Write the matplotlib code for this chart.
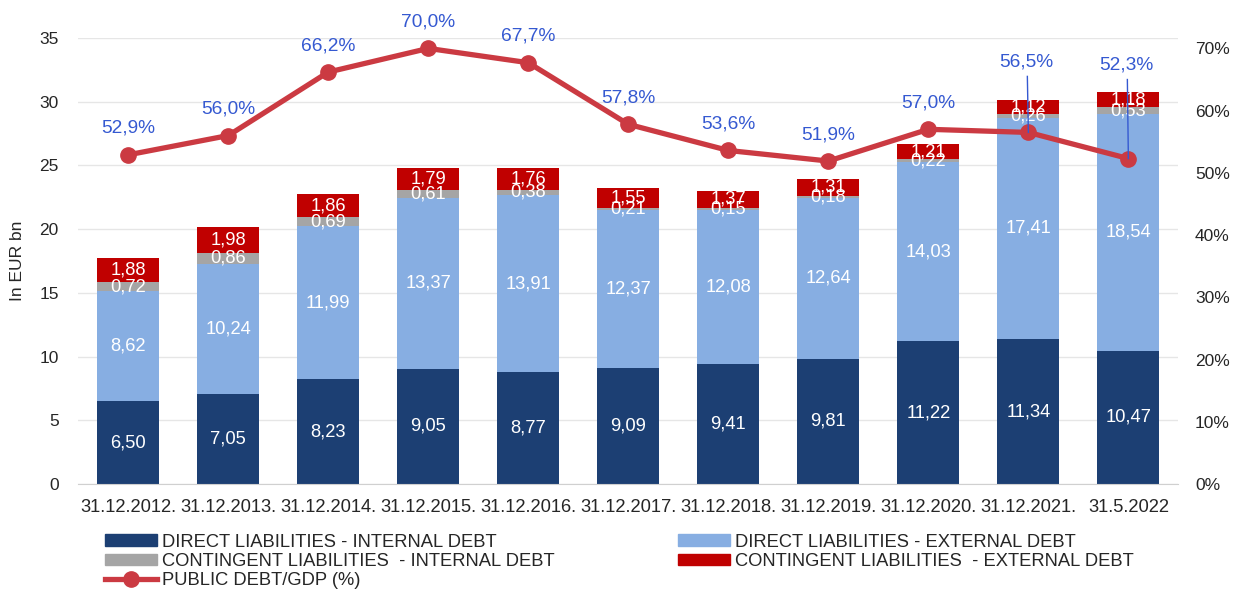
import matplotlib
matplotlib.use("Agg")
import matplotlib.pyplot as plt
import numpy as np
from matplotlib.lines import Line2D
from matplotlib.patches import Patch

plt.rcParams['font.family'] = ['Liberation Sans', 'DejaVu Sans']

categories = ["31.12.2012.", "31.12.2013.", "31.12.2014.", "31.12.2015.", "31.12.2016.",
              "31.12.2017.", "31.12.2018.", "31.12.2019.", "31.12.2020.", "31.12.2021.", "31.5.2022"]
direct_internal = [6.50, 7.05, 8.23, 9.05, 8.77, 9.09, 9.41, 9.81, 11.22, 11.34, 10.47]
direct_external = [8.62, 10.24, 11.99, 13.37, 13.91, 12.37, 12.08, 12.64, 14.03, 17.41, 18.54]
contingent_internal = [0.72, 0.86, 0.69, 0.61, 0.38, 0.21, 0.15, 0.18, 0.22, 0.26, 0.53]
contingent_external = [1.88, 1.98, 1.86, 1.79, 1.76, 1.55, 1.37, 1.31, 1.21, 1.12, 1.18]
debt_gdp = [52.9, 56.0, 66.2, 70.0, 67.7, 57.8, 53.6, 51.9, 57.0, 56.5, 52.3]

c_di = "#1C3F73"
c_de = "#87AEE2"
c_ci = "#A5A5A5"
c_ce = "#C00000"
c_line = "#CB3A42"
c_pct = "#3559D1"
c_txt = "#262626"

fig = plt.figure(figsize=(12.43, 5.91), dpi=100)
ax = fig.add_axes([0.063, 0.181, 0.885, 0.755])
ax2 = ax.twinx()

x = np.arange(len(categories))
w = 0.62
di = np.array(direct_internal)
de = np.array(direct_external)
ci = np.array(contingent_internal)
ce = np.array(contingent_external)

ax.bar(x, di, w, color=c_di, zorder=2)
ax.bar(x, de, w, bottom=di, color=c_de, zorder=2)
ax.bar(x, ci, w, bottom=di + de, color=c_ci, zorder=2)
ax.bar(x, ce, w, bottom=di + de + ci, color=c_ce, zorder=2)

fs = 13.2
fmt = lambda v: f"{v:.2f}".replace(".", ",")
for i in range(len(x)):
    ax.text(x[i], di[i] / 2, fmt(di[i]), ha="center", va="center", color="white", fontsize=fs, zorder=3)
    ax.text(x[i], di[i] + de[i] / 2, fmt(de[i]), ha="center", va="center", color="white", fontsize=fs, zorder=3)
    ax.text(x[i], di[i] + de[i] + ci[i] / 2, fmt(ci[i]), ha="center", va="center", color="white", fontsize=fs, zorder=3)
    ax.text(x[i], di[i] + de[i] + ci[i] + ce[i] / 2, fmt(ce[i]), ha="center", va="center", color="white", fontsize=fs, zorder=3)

ax.set_ylim(0, 35)
ax.set_yticks(np.arange(0, 36, 5))
ax.set_xlim(-0.5, len(x) - 0.5)
ax.set_xticks(x)
ax.set_xticklabels(categories, fontsize=13.2, color=c_txt)
ax.tick_params(axis="y", labelsize=12.5, colors=c_txt, length=0, pad=14)
ax.tick_params(axis="x", length=0, pad=11)
ax.grid(axis="y", color="#E6E6E6", linewidth=1, zorder=0)
ax.set_axisbelow(True)
for s in ["top", "left", "right"]:
    ax.spines[s].set_visible(False)
ax.spines["bottom"].set_color("#D0D0D0")
ax.set_ylabel("In EUR bn", fontsize=12.5, color=c_txt, labelpad=10)

ax2.plot(x, debt_gdp, color=c_line, linewidth=3.8, marker="o", markersize=11, zorder=5)
ax2.set_ylim(0, 71.7)
ax2.set_yticks(np.arange(0, 71, 10))
ax2.set_yticklabels([f"{v}%" for v in range(0, 71, 10)])
ax2.tick_params(axis="y", labelsize=12.5, colors=c_txt, length=0, pad=12)
for s in ["top", "left", "right", "bottom"]:
    ax2.spines[s].set_visible(False)

pfs = 13.8
for i, v in enumerate(debt_gdp):
    lab = f"{v:.1f}%".replace(".", ",")
    if i >= 9:
        ty = 67.8 if i == 9 else 67.3
        ax2.text(x[i] - 0.02, ty, lab, ha="center", va="center", color=c_pct, fontsize=pfs, zorder=6)
        ax2.plot([x[i] - 0.01, x[i]], [ty - 2.3, v], color=c_pct, linewidth=1, zorder=6)
    else:
        ax2.annotate(lab, (x[i], v), xytext=(0, 19), textcoords="offset points",
                     ha="center", va="center", color=c_pct, fontsize=pfs, zorder=6)

lfs = 13.2
common = dict(loc="upper left", frameon=False, fontsize=lfs, handlelength=2.85,
              handleheight=0.6, handletextpad=0.25, labelspacing=0.12,
              borderaxespad=0, borderpad=0, labelcolor=c_txt)
legA = fig.legend([Patch(color=c_di), Patch(color=c_ci),
                   Line2D([0], [0], color=c_line, lw=3.8, marker="o", markersize=11)],
                  ["DIRECT LIABILITIES - INTERNAL DEBT", "CONTINGENT LIABILITIES  - INTERNAL DEBT",
                   "PUBLIC DEBT/GDP (%)"],
                  bbox_to_anchor=(0.0845, 0.097), **common)
legB = fig.legend([Patch(color=c_de), Patch(color=c_ce)],
                  ["DIRECT LIABILITIES - EXTERNAL DEBT", "CONTINGENT LIABILITIES  - EXTERNAL DEBT"],
                  bbox_to_anchor=(0.5455, 0.097), **common)

fig.savefig("out.png", dpi=100)
